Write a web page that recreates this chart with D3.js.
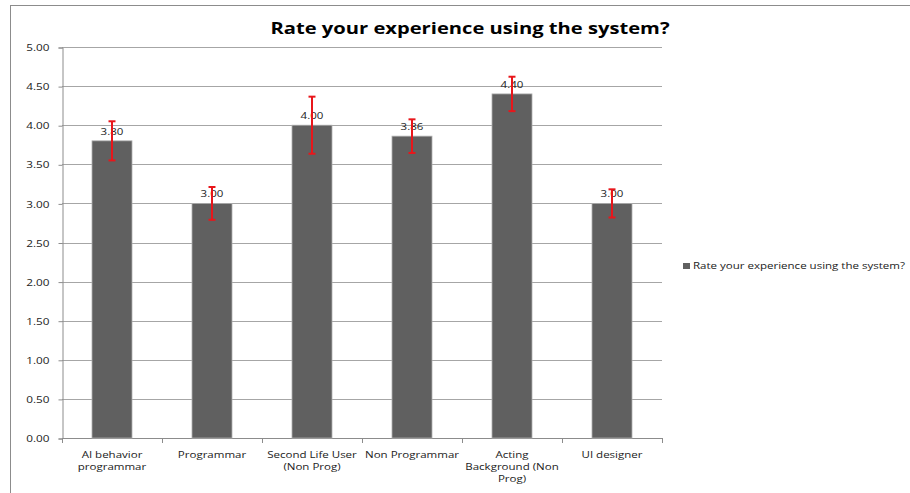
<!DOCTYPE html>
<html>
<head>
<meta charset="utf-8">
<script src="https://cdn.jsdelivr.net/npm/d3@7"></script>
<style>
  html, body { margin: 0; padding: 0; background: #fff; }
  svg { display: block; }
</style>
</head>
<body>
<svg id="chart" width="910" height="493"></svg>
<script>
// Survey responses: mean rating per participant group, with error margins
const categories = [
  ["AI behavior", "programmar"],
  ["Programmar"],
  ["Second Life User", "(Non Prog)"],
  ["Non Programmar"],
  ["Acting", "Background (Non", "Prog)"],
  ["UI designer"]
];
const means = [3.80, 3.00, 4.00, 3.86, 4.40, 3.00];
const errors = [0.25, 0.21, 0.365, 0.215, 0.22, 0.18];
const yTicks = [0, 0.5, 1, 1.5, 2, 2.5, 3, 3.5, 4, 4.5, 5];
const title = "Rate your experience using the system?";
const seriesName = "Rate your experience using the system?";

const FONT = "Open Sans, sans-serif";
const SX = 1.2; // text is drawn slightly wide
const svg = d3.select("#chart");
const plot = { left: 62, right: 662, top: 47, bottom: 438 };

// place a text at (px, py) with horizontal widening
function wide(sel, px, py) {
  return sel.attr("x", 0).attr("y", 0)
    .attr("transform", (d, i) => `translate(${typeof px === "function" ? px(d, i) : px},${typeof py === "function" ? py(d, i) : py}) scale(${SX},1)`);
}

// outer chart frame
svg.append("rect")
  .attr("x", 10.5).attr("y", 5.5)
  .attr("width", 1000).attr("height", 1000)
  .attr("fill", "none").attr("stroke", "#8c8c8c").attr("stroke-width", 1);

const x = d3.scaleBand()
  .domain(d3.range(categories.length))
  .range([plot.left, plot.right])
  .paddingInner(0.6).paddingOuter(0.3);

const y = d3.scaleLinear().domain([0, 5]).range([plot.bottom, plot.top]);

// gridlines
svg.append("g")
  .selectAll("line")
  .data(yTicks.filter(d => d > 0))
  .join("line")
  .attr("x1", plot.left).attr("x2", plot.right)
  .attr("y1", d => Math.round(y(d)) + 0.5).attr("y2", d => Math.round(y(d)) + 0.5)
  .attr("stroke", "#a6a6a6").attr("stroke-width", 1);

// y axis
const yAxis = svg.append("g")
  .attr("transform", `translate(${plot.left + 0.5},0.5)`)
  .call(d3.axisLeft(y).tickValues(yTicks).tickFormat(d3.format(".2f")).tickSize(4).tickPadding(13));
yAxis.select(".domain").attr("stroke", "#8c8c8c");
yAxis.selectAll(".tick line").attr("stroke", "#8c8c8c");
yAxis.selectAll("text")
  .attr("x", -13 / SX)
  .attr("transform", `scale(${SX},1)`)
  .attr("font-family", FONT)
  .attr("font-size", 9.8).attr("fill", "#222");

// x axis with ticks at category boundaries
const bounds = d3.range(categories.length + 1).map(i => plot.left + i * (plot.right - plot.left) / categories.length);
const xg = svg.append("g");
xg.append("line")
  .attr("x1", plot.left).attr("x2", plot.right)
  .attr("y1", plot.bottom + 0.5).attr("y2", plot.bottom + 0.5)
  .attr("stroke", "#8c8c8c");
xg.selectAll("line.tk")
  .data(bounds)
  .join("line").attr("class", "tk")
  .attr("x1", d => Math.round(d) + 0.5).attr("x2", d => Math.round(d) + 0.5)
  .attr("y1", plot.bottom).attr("y2", plot.bottom + 5)
  .attr("stroke", "#8c8c8c");

// category labels
const cat = xg.selectAll("text.cat")
  .data(categories)
  .join("text").attr("class", "cat")
  .attr("text-anchor", "middle")
  .attr("font-family", FONT)
  .attr("font-size", 9.6).attr("fill", "#222");
wide(cat, (d, i) => x(i) + x.bandwidth() / 2, plot.bottom + 20);
cat.selectAll("tspan")
  .data(d => d)
  .join("tspan")
  .attr("x", 0)
  .attr("dy", (d, i) => i === 0 ? 0 : 12)
  .text(d => d);

// bars
svg.append("g")
  .selectAll("rect")
  .data(means)
  .join("rect")
  .attr("x", (d, i) => x(i))
  .attr("y", d => y(d))
  .attr("width", x.bandwidth())
  .attr("height", d => plot.bottom - y(d))
  .attr("fill", "#606060")
  .attr("stroke", "#b0b0b0").attr("stroke-width", 0.8);

// value labels
const vl = svg.append("g")
  .selectAll("text")
  .data(means)
  .join("text")
  .attr("text-anchor", "middle")
  .attr("font-family", FONT)
  .attr("font-size", 9.6).attr("fill", "#222")
  .text(d => d3.format(".2f")(d));
wide(vl, (d, i) => x(i) + x.bandwidth() / 2, d => y(d) - 6);

// error bars
const eb = svg.append("g").attr("stroke", "#e8161b").attr("stroke-width", 2);
means.forEach((m, i) => {
  const cx = x(i) + x.bandwidth() / 2;
  const hi = y(m + errors[i]), lo = y(m - errors[i]);
  eb.append("line").attr("x1", cx).attr("x2", cx).attr("y1", hi).attr("y2", lo);
  eb.append("line").attr("x1", cx - 3.5).attr("x2", cx + 3.5).attr("y1", hi).attr("y2", hi);
  eb.append("line").attr("x1", cx - 3.5).attr("x2", cx + 3.5).attr("y1", lo).attr("y2", lo);
});

// title
const tt = svg.append("text")
  .attr("text-anchor", "middle")
  .attr("font-family", FONT)
  .attr("font-weight", "bold")
  .attr("font-size", 16.8).attr("fill", "#000")
  .text(title);
wide(tt, 470, 34);

// legend
const lg = svg.append("g").attr("transform", "translate(683,263)");
lg.append("rect").attr("x", 0).attr("y", 0).attr("width", 7).attr("height", 6).attr("fill", "#606060");
const lt = lg.append("text")
  .attr("font-family", FONT)
  .attr("font-size", 9.6).attr("fill", "#222")
  .text(seriesName);
wide(lt, 10, 6);
</script>
</body>
</html>
